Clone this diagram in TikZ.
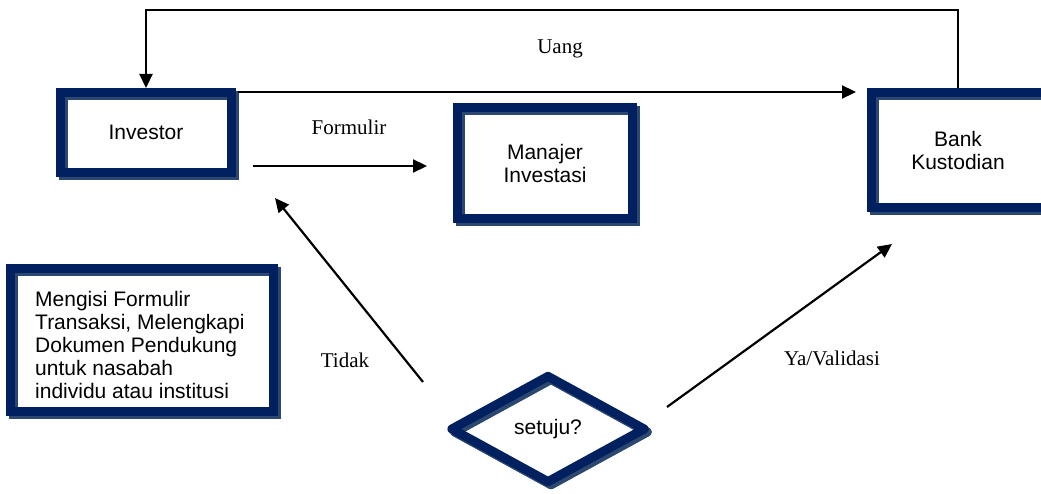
\documentclass[tikz,border=0pt]{standalone}
\usepackage{fontspec}
\setmainfont{Liberation Serif}
\setsansfont{Liberation Sans}
\usetikzlibrary{shapes.geometric,shadows,arrows.meta,calc}
\definecolor{navy}{RGB}{0,32,96}
\definecolor{slate}{RGB}{44,72,112}
\tikzset{
  frame/.style={draw=navy, line width=9pt, line join=miter, inner sep=0pt,
    font=\sffamily\fontsize{21}{23}\selectfont, align=center,
    general shadow={draw=slate, fill=none, opacity=1, line width=9pt,
      shadow xshift=3pt, shadow yshift=-3pt}},
  decision/.style={frame, diamond, line join=round,
    general shadow={draw=slate, fill=none, opacity=1, line width=9pt,
      line join=round, shadow xshift=3pt, shadow yshift=-3pt}},
  boxtext/.style={inner sep=0pt, align=center,
    font=\sffamily\fontsize{21}{23}\selectfont},
  conn/.style={draw=black, line width=2.2pt,
    -{Triangle[length=14pt,width=13pt]}},
  lbl/.style={font=\fontsize{21}{24}\selectfont, inner sep=0pt},
}
\begin{document}
\begin{tikzpicture}[x=1pt,y=-1pt]
\useasboundingbox (0,0) rectangle (1041,494);
\clip (0,0) rectangle (1041,494);

% boxes
\node[frame, minimum width=171pt, minimum height=80pt] (inv) at (146,132.5)
  {\raisebox{-4pt}{Investor}};
\node[frame, minimum width=175pt, minimum height=111pt] (man) at (545,163)
  {Manajer\\Investasi};
% the custodian box runs past the right edge of the page
\node[frame, minimum width=210pt, minimum height=115pt] (bank) at (976.5,150) {};
\node[boxtext] (banktxt) at (958,150) {Bank\\Kustodian};
\node[frame, minimum width=263pt, minimum height=143pt] (tbox) at (142,340) {};
\node[anchor=west, align=left, inner sep=0pt,
  font=\sffamily\fontsize{21}{23}\selectfont] (tboxtxt) at (35,345)
  {Mengisi Formulir\\Transaksi, Melengkapi\\Dokumen Pendukung\\untuk nasabah\\individu atau institusi};
\node[decision, minimum width=196pt, minimum height=109pt] (dec) at (548,429)
  {\raisebox{-3pt}{setuju?}};

% connector end points
\coordinate (looptop) at (0,10);
\coordinate (tidakfrom) at (423,382);
\coordinate (tidakto) at (275,198);
\coordinate (yafrom) at (667,407);
\coordinate (yato) at (892,244);

% connectors
\draw[conn] (banktxt |- bank.north) -- (banktxt |- looptop) -| (inv.north);
\draw[conn] ($(inv.north east)+(2,4)$) -- ($(bank.north west)+(-11,4)$);
\draw[conn] ($(inv.east)+(17,33.5)$) -- ($(man.west)+(-26,3)$);
\draw[conn] (tidakfrom) -- (tidakto);
\draw[conn] (yafrom) -- (yato);

% labels
\node[lbl] (uang) at (560,49) {Uang};
\node[lbl] (formulir) at (349,127) {Formulir};
\node[lbl] (tidak) at (345,360) {Tidak};
\node[lbl] (ya) at (832,358) {Ya/Validasi};
\end{tikzpicture}
\end{document}
